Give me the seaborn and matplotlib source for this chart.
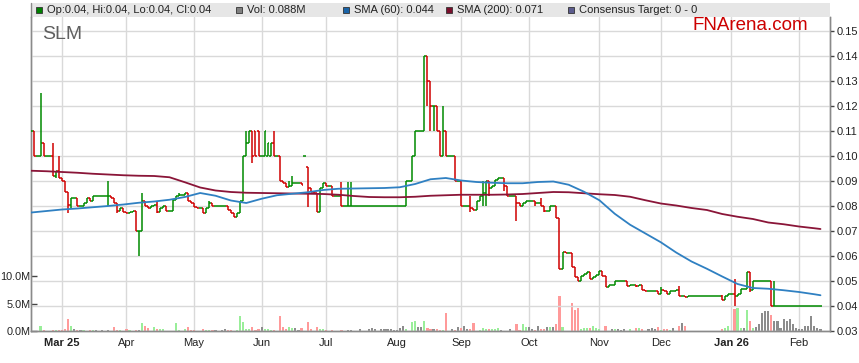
import matplotlib
matplotlib.use("Agg")
import matplotlib.pyplot as plt
from matplotlib.patches import Rectangle
from matplotlib.lines import Line2D
import seaborn as sns
import pandas as pd
import numpy as np

# ---- daily closes (ASX trading days) ----
close_feb25 = [0.11, 0.10, 0.10, 0.105, 0.10, 0.10, 0.10, 0.092, 0.094, 0.091]
close_mar25 = [0.090, 0.0855, 0.0805, 0.083, 0.083, 0.080, 0.080, 0.081, 0.083, 0.082, 0.084,
               0.084, 0.084, 0.084, 0.084, 0.084, 0.083, 0.081, 0.078, 0.079, 0.0775]
close_apr25 = [0.077, 0.0775, 0.078, 0.070, 0.070, 0.082, 0.080, 0.079, 0.080, 0.0805, 0.0775,
               0.079, 0.080, 0.078, 0.078, 0.0825, 0.084, 0.0845, 0.0845, 0.085, 0.082, 0.081]
close_may25 = [0.0795, 0.079, 0.079, 0.077, 0.079, 0.081, 0.080, 0.080, 0.080, 0.080, 0.080,
               0.0785, 0.077, 0.0755, 0.077, 0.082, 0.10, 0.105, 0.11, 0.10, 0.10, 0.10]
close_jun25 = [0.10, 0.11, 0.105, 0.105, 0.10, 0.10, 0.09, 0.089, 0.0875, 0.088, 0.089,
               0.089, 0.089, 0.0885, 0.10, 0.087, 0.0855, 0.085, 0.0775, 0.087, 0.089]
close_jul25 = [0.088, 0.088, 0.084, 0.084, 0.084, 0.080, 0.080, 0.080, 0.080] + [0.080] * 14
close_aug25 = [0.080, 0.080, 0.080, 0.09, 0.09, 0.10, 0.11, 0.11, 0.11, 0.14, 0.13,
               0.12, 0.12, 0.11, 0.10, 0.11, 0.10, 0.10, 0.10, 0.09, 0.09]
close_sep25 = [0.08, 0.08, 0.08, 0.079, 0.0785, 0.082, 0.084, 0.085, 0.09, 0.087, 0.088,
               0.0905, 0.091, 0.091, 0.088, 0.084, 0.084, 0.084, 0.081, 0.080, 0.081, 0.082]
close_oct25 = [0.082, 0.082, 0.081, 0.081, 0.080, 0.078, 0.078, 0.080, 0.080, 0.075, 0.055,
               0.0615, 0.0613, 0.0613, 0.0555, 0.0515, 0.050, 0.052, 0.053, 0.0535, 0.051,
               0.0515, 0.0525]
close_nov25 = [0.054, 0.052, 0.0475, 0.0483, 0.0483, 0.050, 0.050, 0.050, 0.050, 0.048,
               0.0485, 0.0485, 0.048, 0.0485, 0.0465, 0.046, 0.046, 0.046, 0.046, 0.045]
close_dec25 = [0.0465, 0.046, 0.0447, 0.046, 0.046, 0.0465, 0.044, 0.044, 0.0437] + [0.044] * 11 + \
              [0.0425, 0.044, 0.045]
close_jan26 = [0.045, 0.044, 0.045, 0.047, 0.047, 0.0535, 0.0465, 0.05, 0.05, 0.05, 0.05,
               0.05, 0.05, 0.04, 0.04, 0.04, 0.04, 0.04, 0.04, 0.04, 0.04, 0.04]
close_feb26 = [0.04] * 8

# bars whose open / high / low differ from the plain step
open_fix = {73: 0.11, 74: 0.11, 77: 0.10, 78: 0.10, 89: 0.10, 90: 0.0955}
high_fix = {3: 0.125, 7: 0.105, 9: 0.10, 11: 0.09, 12: 0.083, 25: 0.09, 36: 0.085, 41: 0.082,
            48: 0.085, 58: 0.082, 70: 0.11, 79: 0.11, 84: 0.09, 85: 0.092, 93: 0.085,
            101: 0.0895, 103: 0.0895, 104: 0.0895, 130: 0.13, 134: 0.12, 143: 0.084,
            147: 0.09, 166: 0.083, 176: 0.06, 177: 0.055, 205: 0.0475, 211: 0.048,
            225: 0.0445, 229: 0.051, 242: 0.05}
low_fix = {8: 0.091, 12: 0.077, 13: 0.079, 25: 0.08, 28: 0.077, 35: 0.06, 41: 0.077, 68: 0.077,
           72: 0.097, 90: 0.0795, 94: 0.078, 129: 0.12, 130: 0.11, 131: 0.11, 143: 0.0775,
           147: 0.08, 148: 0.08, 149: 0.084, 154: 0.086, 158: 0.074, 164: 0.08, 167: 0.0775,
           173: 0.0595, 197: 0.0475, 226: 0.0425, 229: 0.04, 234: 0.0455}

# ---- daily volume, millions ----
vol_feb25 = [0.2, 0, 0, 0.9, 0.2, 0, 0, 0.2, 0.2, 0.2]
vol_mar25 = [0.2, 0.3, 2.1, 0.9, 0.3, 0.2, 0.2, 0.2, 0, 0.2, 0.2, 0.2, 0, 0.2, 0, 0.2, 0, 0.7,
             0.2, 0.2, 0]
vol_apr25 = [0.3, 0.2, 0, 0.2, 0.2, 1.4, 0.9, 0.5, 0, 0.7, 0.3, 0.3, 0.3, 0, 0, 0, 1.4, 0.2, 0,
             0.3, 0.8, 0.2]
vol_may25 = [0.2, 0, 0, 0.3, 0.2, 0.2, 0.2, 0.2, 0, 0.1, 0.3, 0.2, 0.2, 0, 0.2, 2.8, 1.6, 0.3,
             0.3, 0.7, 0.2, 0.3]
vol_jun25 = [0.8, 0.3, 0.4, 0.2, 0.2, 0, 2.8, 0.7, 0.3, 0.8, 0.5, 0.5, 0.2, 0.5, 0, 1.7, 0.3, 0,
             0.7, 0.3, 0.3]
vol_jul25 = [0.2, 0, 0.2, 0, 0, 0.2, 0, 0.2, 0.2, 0, 0, 0.3, 0, 0, 0.3, 0.5, 0.3, 0, 0.3, 0.3,
             0.3, 0.3, 0.2]
vol_aug25 = [0.2, 0.5, 0.9, 0.3, 0, 1.7, 1.9, 0.7, 0.7, 1.9, 0.5, 0.3, 0.3, 0.3, 0.2, 0.2, 3.2,
             0, 0.3, 0.2, 0.7]
vol_sep25 = [0.5, 1.0, 0.3, 0.3, 1.4, 0, 0.2, 0.5, 0.3, 0.3, 0.3, 0.3, 0.5, 0.2, 0, 0, 0.3, 0,
             1.2, 0.2, 1.2, 0.8]
vol_oct25 = [0.8, 0.3, 0.2, 1.0, 0.3, 0.3, 0.8, 0.8, 0.8, 1.2, 6.4, 0.8, 0, 0, 5.1, 3.8, 4.2,
             0.4, 0.5, 0.6, 0.6, 1.0, 0.5]
vol_nov25 = [0.4, 0, 1.0, 0, 0.3, 0.3, 0.3, 0.2, 0.3, 0, 0.3, 0, 0.5, 0.5, 0.3, 0, 0.3, 0.5,
             0.3, 0.8]
vol_dec25 = [0.2, 0.3, 0.3, 0.2, 0.5, 0, 1.0, 1.5, 1.0] + [0] * 11 + [0.3, 0.6, 0.9]
vol_jan26 = [0, 4.0, 4.2, 0.5, 0.5, 3.9, 1.9, 0.5, 0.8, 1.2, 3.2, 3.6, 3.7, 3.0, 1.8, 1.8, 0.5,
             2.1, 1.9, 2.1, 1.2, 0.5]
vol_feb26 = [0.3, 0.3, 1.0, 1.0, 2.7, 1.0, 0.6, 0.3]

# ---- moving averages, read every 5th trading day (+ last day) ----
sma60 = [.0774, .078, .0786, .079, .0795, .08, .0806, .0813, .0818, .0825, .0836, .0852, .0841,
         .0822, .0812, .0829, .0843, .0849, .0855, .0864, .0869, .087, .0871, .0872, .0875,
         .0888, .0907, .0912, .0902, .0896, .0893, .0891, .0891, .0896, .0898, .0885, .0857,
         .0823, .0769, .0725, .069, .0655, .0614, .0578, .0549, .0518, .0488, .0472, .0469,
         .0463, .0456, .0447, .0443]
sma200 = [.0941, .0939, .0936, .0933, .0929, .0926, .0923, .0921, .092, .0915, .0895, .0874,
          .0862, .0856, .0853, .0852, .0851, .085, .0849, .0848, .0845, .084, .0836, .0835,
          .0835, .0837, .0841, .0843, .0845, .0845, .0845, .0846, .0848, .0852, .0856, .0855,
          .0851, .0847, .0844, .0837, .0823, .081, .0802, .0792, .0784, .0768, .0757, .0748,
          .0734, .0727, .0718, .0711, .0708]

month_labels = ["Mar 25", "Apr", "May", "Jun", "Jul", "Aug", "Sep", "Oct", "Nov", "Dec",
                "Jan 26", "Feb"]
price_ticks = [0.03, 0.04, 0.05, 0.06, 0.07, 0.08, 0.09, 0.10, 0.11, 0.12, 0.13, 0.14, 0.15]
vol_ticks = [0, 5, 10]

# ---- assemble ----
close = np.array(close_feb25 + close_mar25 + close_apr25 + close_may25 + close_jun25 +
                 close_jul25 + close_aug25 + close_sep25 + close_oct25 + close_nov25 +
                 close_dec25 + close_jan26 + close_feb26)
volume = np.array(vol_feb25 + vol_mar25 + vol_apr25 + vol_may25 + vol_jun25 + vol_jul25 +
                  vol_aug25 + vol_sep25 + vol_oct25 + vol_nov25 + vol_dec25 + vol_jan26 +
                  vol_feb26)
dates = pd.bdate_range("2025-02-17", "2026-02-11")
idx = np.arange(len(dates))

opn = np.concatenate([[close[0]], close[:-1]])
for k, v in open_fix.items():
    opn[k] = v
high = np.maximum(opn, close)
low = np.minimum(opn, close)
for k, v in high_fix.items():
    high[k] = max(high[k], v)
for k, v in low_fix.items():
    low[k] = min(low[k], v)

bar_col = np.where(close >= opn, "#008a00", "#d00000")
vol_col = np.where(close > opn, "#99ee99", np.where(close < opn, "#ff9a9a", "#8c8c8c"))

sma_x = list(idx[::5]) + [idx[-1]]
sma_df = pd.DataFrame({"day": sma_x, "sma60": sma60, "sma200": sma200})

month_pos = pd.Series(idx, index=dates).groupby(dates.to_period("M")).first().values[1:]

# ---- figure ----
sns.set_style("white")
plt.rcParams["font.family"] = ["Liberation Sans", "DejaVu Sans"]

fig = plt.figure(figsize=(8.59, 3.63), dpi=100)
L, B, W, H = 31 / 859, 32 / 363, 799 / 859, 314 / 363
ax = fig.add_axes([L, B, W, H])
ax2 = ax.twinx()

grid_c = "#d9d9d9"
spine_c = "#8a8a8a"

# volume (left axis)
ax.bar(idx, volume, width=0.7, color=vol_col, linewidth=0, zorder=2)
ax.set_ylim(0, 57.1)
ax.set_xlim(-0.1, 260.1)
ax.set_yticks(vol_ticks)
ax.set_yticklabels([f"{v:.1f}M" for v in vol_ticks])
ax.tick_params(axis="y", direction="in", length=4, width=1, color="#444444", pad=0.5,
               labelsize=7.8, labelcolor="#222222")
ax.set_xticks(month_pos)
ax.set_xticklabels(month_labels)
ax.tick_params(axis="x", length=0, pad=5, labelsize=8, labelcolor="#222222")
for lab in ax.get_xticklabels():
    if lab.get_text() in ("Mar 25", "Jan 26"):
        lab.set_fontweight("bold")
ax.xaxis.grid(True, color=grid_c, lw=1)
ax.yaxis.grid(False)
ax.set_axisbelow(True)

# price (right axis)
ax2.set_ylim(0.03, 0.1556)
ax2.set_yticks(price_ticks)
ax2.set_yticklabels([f"{p:.2f}" for p in price_ticks])
ax2.tick_params(axis="y", direction="out", length=3, width=1, color="#444444", pad=2,
                labelsize=8, labelcolor="#222222")
ax2.yaxis.grid(True, color=grid_c, lw=1)
ax2.set_axisbelow(True)

ax2.vlines(idx, low, high, colors=bar_col, lw=1.1, zorder=3)
ax2.hlines(opn, idx - 0.5, idx, colors=bar_col, lw=1.1, zorder=3)
ax2.hlines(close, idx, idx + 0.5, colors=bar_col, lw=1.1, zorder=3)

sns.lineplot(data=sma_df, x="day", y="sma200", ax=ax2, color="#8a1538", lw=1.3, zorder=4)
sns.lineplot(data=sma_df, x="day", y="sma60", ax=ax2, color="#2f80c2", lw=1.3, zorder=4)
ax2.set_xlim(-0.1, 260.1)
ax2.set_xlabel("")
ax2.set_ylabel("")
ax.set_xlabel("")
ax.set_ylabel("")

for a in (ax, ax2):
    a.spines["top"].set_visible(False)
    for s in ("left", "right", "bottom"):
        a.spines[s].set_color(spine_c)
        a.spines[s].set_linewidth(1)

# header strip with legend entries
fig.patches.append(Rectangle((L, (363 - 17) / 363), W, 14 / 363, transform=fig.transFigure,
                             facecolor="#e6e6e6", edgecolor="none", zorder=0))
fig.lines.append(Line2D([L, L], [(363 - 17) / 363, (363 - 3) / 363], transform=fig.transFigure,
                        color=spine_c, lw=1))

legend_items = [
    (36, "#008000", "Op:0.04, Hi:0.04, Lo:0.04, Cl:0.04"),
    (236, "#808080", "Vol: 0.088M"),
    (343, "#1a64a8", "SMA (60): 0.044"),
    (446, "#7a0f2c", "SMA (200): 0.071"),
    (568, "#5c5c8e", "Consensus Target: 0 - 0"),
]
hy = (363 - 10) / 363
for px, col, txt in legend_items:
    fig.patches.append(Rectangle((px / 859, (363 - 13) / 363), 6 / 859, 6 / 363,
                                 transform=fig.transFigure, facecolor=col,
                                 edgecolor="#333333", lw=0.6))
    fig.text((px + 11) / 859, hy, txt, fontsize=8, color="#222222", va="center", ha="left")

fig.text(42 / 859, (363 - 39) / 363, "SLM", fontsize=14, color="#5f5f5f", va="baseline")
fig.text(693 / 859, (363 - 30.5) / 363, "FNArena.com", fontsize=13.5, color="#cc0000",
         va="baseline")

fig.savefig("out.png", dpi=100)
